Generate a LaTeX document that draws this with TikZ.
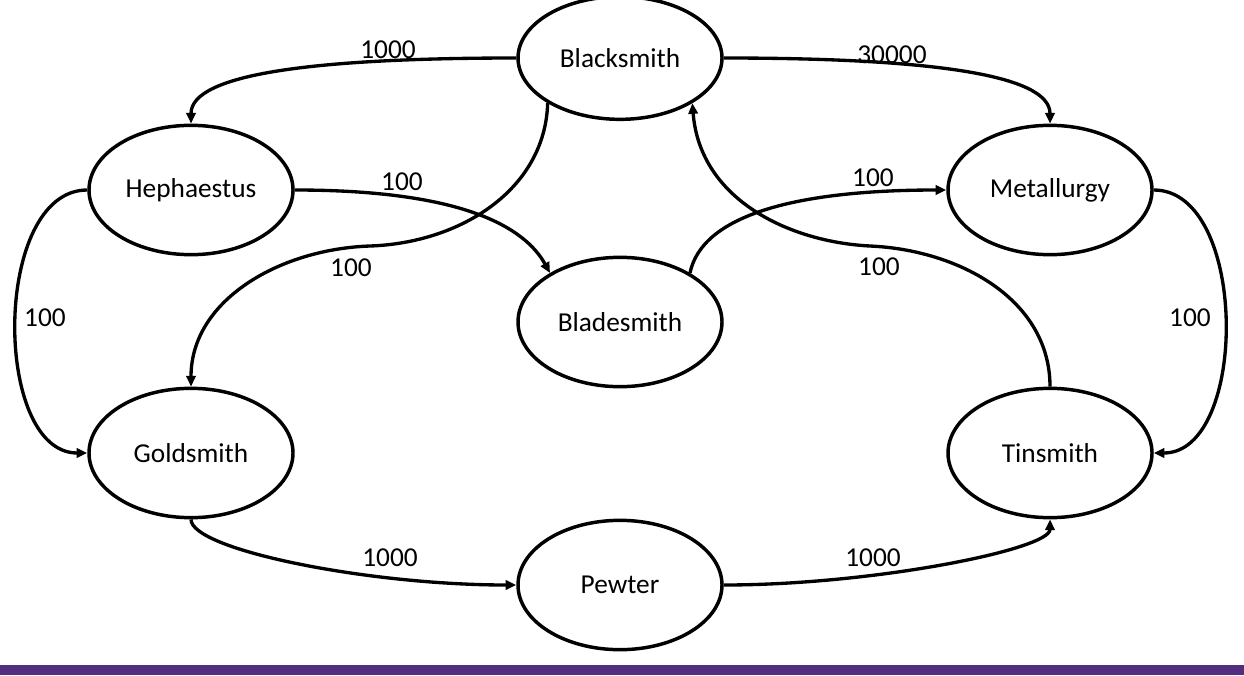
\documentclass[tikz,border=0pt]{standalone}
\usepackage{fontspec}
\setmainfont{Carlito}
\usetikzlibrary{shapes.geometric,arrows.meta}
\definecolor{barpurple}{RGB}{82,45,128}
\tikzset{
  topic/.style={draw, ellipse, line width=2.6pt, minimum width=153pt, minimum height=97pt, inner sep=0pt, font=\fontsize{20.5}{24}\selectfont},
  link/.style={line width=2.5pt, -{Triangle[length=8pt,width=7pt]}},
  wlabel/.style={font=\fontsize{20.5}{24}\selectfont, inner sep=0pt}
}
\begin{document}
\begin{tikzpicture}[x=0.75pt,y=-0.75pt]
\useasboundingbox (0,0) rectangle (1244,675);
\fill[barpurple] (0,665) rectangle (1244,675);

\node[topic, minimum height=92pt] (B) at (620,58) {Blacksmith};
\node[topic] (H) at (191,190) {Hephaestus};
\node[topic] (M) at (1050,190) {Metallurgy};
\node[topic] (Bl) at (620,322) {Bladesmith};
\node[topic] (G) at (191,453) {Goldsmith};
\node[topic] (T) at (1050,453) {Tinsmith};
\node[topic] (P) at (620,585) {Pewter};

\draw[link] (B.west) .. controls +(-200,0) and +(0,-50) .. (H.north);
\draw[link] (B.east) .. controls +(200,0) and +(0,-50) .. (M.north);
\draw[link] (H.east) .. controls +(170,0) and +(-25,-45) .. (Bl.145);
\draw[link] (B.212) .. controls (545,190) and (460,243) .. (370,246) .. controls (280,249) and (191,300) .. (G.north);
\draw[link] (Bl.35) .. controls +(12,-58) and +(-150,0) .. (M.west);
\draw[link] (T.north) .. controls (1050,300) and (960,250) .. (870,246) .. controls (790,242) and (700,200) .. (B.328);
\draw[link] (H.west) .. controls +(-95,0) and +(-95,0) .. (G.west);
\draw[link] (M.east) .. controls +(95,0) and +(95,0) .. (T.east);
\draw[link] (G.south) .. controls +(0,30) and +(-150,0) .. (P.west);
\draw[link] (P.east) .. controls +(150,0) and +(0,30) .. (T.south);

\node[wlabel] (l1) at (388,50) {1000};
\node[wlabel] (l2) at (892,55) {30000};
\node[wlabel] (l3) at (402,182) {100};
\node[wlabel] (l4) at (351,268) {100};
\node[wlabel] (l5) at (873,178) {100};
\node[wlabel] (l6) at (879,267) {100};
\node[wlabel] (l7) at (45,318) {100};
\node[wlabel] (l8) at (1190,318) {100};
\node[wlabel] (l9) at (390,558) {1000};
\node[wlabel] (l10) at (873,558) {1000};
\end{tikzpicture}
\end{document}
